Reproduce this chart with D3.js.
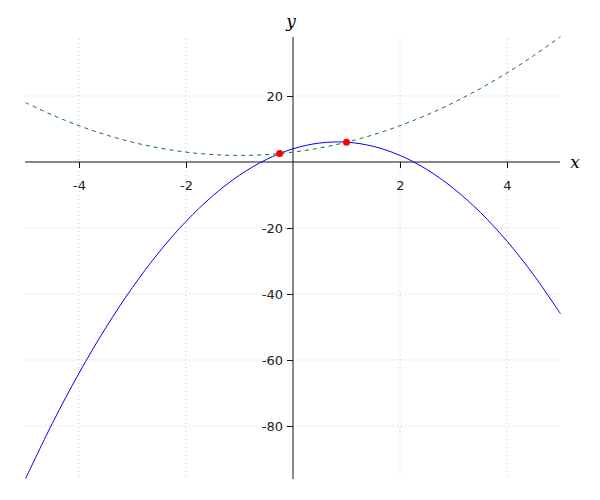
<!DOCTYPE html>
<html><head><meta charset="utf-8">
<script src="https://cdn.jsdelivr.net/npm/d3@7"></script>
<style>body{margin:0;background:#fff;}</style>
</head><body>
<svg id="chart" width="600" height="500"></svg>
<script>
const xs = [-5,-4.5,-4,-3.5,-3,-2.5,-2,-1.5,-1,-0.5,0,0.5,1,1.5,2,2.5,3,3.5,4,4.5,5];
const blueValues = [-96,-79.25,-64,-50.25,-38,-27.25,-18,-10.25,-4,0.75,4,5.75,6,4.75,2,-2.25,-8,-15.25,-24,-34.25,-46];
const greenValues = [18,14.25,11,8.25,6,4.25,3,2.25,2,2.25,3,4.25,6,8.25,11,14.25,18,22.25,27,32.25,38];
const pointsX = [-0.25, 1];
const pointsY = [2.5625, 6];
const xTicks = [-4,-2,2,4];
const yTicks = [20,-20,-40,-60,-80];

const svg = d3.select("#chart");
const x = d3.scaleLinear().domain([-5,5]).range([25.5,560.5]);
const y = d3.scaleLinear().domain([0,-80]).range([162,426]);
const yTop = 37, yBot = 479;
const fmt = d => String(d);

// grid
const grid = svg.append("g").attr("stroke","#c8c8c8").attr("stroke-dasharray","1,3").attr("stroke-width",1);
xTicks.forEach(t=>grid.append("line").attr("x1",x(t)).attr("x2",x(t)).attr("y1",39).attr("y2",yBot));
yTicks.forEach(t=>grid.append("line").attr("x1",25).attr("x2",560).attr("y1",y(t)).attr("y2",y(t)));

// axes
const xAxis = d3.axisBottom(x).tickValues(xTicks).tickFormat(fmt).tickSize(6).tickPadding(13).tickSizeOuter(0);
const gx = svg.append("g").attr("transform",`translate(0,${y(0)})`).call(xAxis);
gx.select(".domain").attr("d",`M25,0H560`);
const yAxis = d3.axisLeft(y).tickValues(yTicks).tickFormat(fmt).tickSize(6).tickPadding(4).tickSizeOuter(0);
const gy = svg.append("g").attr("transform",`translate(${x(0)},0)`).call(yAxis);
gy.select(".domain").attr("d",`M0,${yTop}V${yBot}`);
svg.selectAll(".tick text").attr("font-family","DejaVu Sans").attr("font-size",13).attr("fill","#222");
svg.selectAll(".domain, .tick line").attr("stroke","#111");

svg.append("text").attr("x",x(0)-2).attr("y",27).attr("font-family","DejaVu Serif").attr("font-style","italic").attr("font-size",17).attr("text-anchor","middle").text("y");
svg.append("text").attr("x",575).attr("y",y(0)+6).attr("font-family","DejaVu Serif").attr("font-style","italic").attr("font-size",17).attr("text-anchor","middle").text("x");

const line = d3.line().x((d,i)=>x(xs[i])).y(d=>y(d)).curve(d3.curveCatmullRom);
svg.append("path").datum(greenValues).attr("d",line).attr("fill","none").attr("stroke","#137a13").attr("stroke-dasharray","4,4").attr("stroke-width",1);
svg.append("path").datum(blueValues).attr("d",line).attr("fill","none").attr("stroke","#0000ff").attr("stroke-width",1);

svg.append("g").selectAll("circle").data(pointsX).join("circle")
  .attr("cx",d=>x(d)).attr("cy",(d,i)=>y(pointsY[i])).attr("r",3.5).attr("fill","#ff0000");
</script>
</body></html>
